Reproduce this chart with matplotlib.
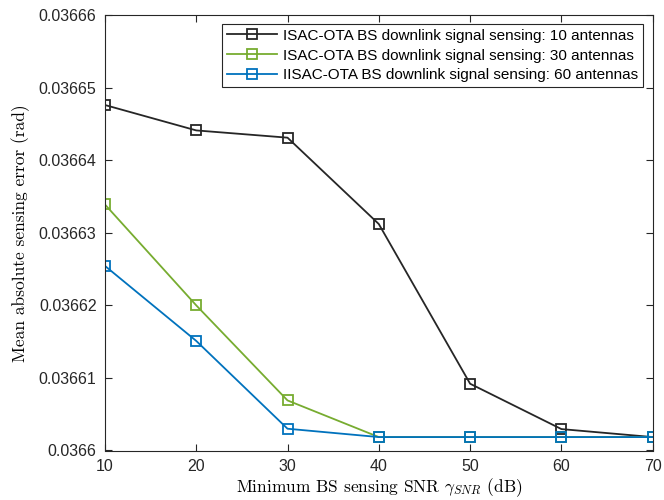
import matplotlib.pyplot as plt

snr_db = [10, 20, 30, 40, 50, 60, 70]
err_10ant = [0.0366476, 0.0366441, 0.0366431, 0.0366312, 0.0366092, 0.03660295, 0.03660185]
err_30ant = [0.0366339, 0.0366200, 0.0366069, 0.03660185, 0.03660185, 0.03660185, 0.03660185]
err_60ant = [0.03662544, 0.0366151, 0.0366030, 0.03660185, 0.03660185, 0.03660185, 0.03660185]

labels = ['ISAC-OTA BS downlink signal sensing: 10 antennas',
          'ISAC-OTA BS downlink signal sensing: 30 antennas',
          'IISAC-OTA BS downlink signal sensing: 60 antennas']
colors = ['#262626', '#77AC30', '#0072BD']

plt.rcParams['font.family'] = 'Liberation Sans'
plt.rcParams['mathtext.fontset'] = 'cm'

fig = plt.figure(figsize=(6.64, 5.0), dpi=100)
ax = fig.add_axes([0.158, 0.099, 0.825, 0.871])

for y, c, lab in zip([err_10ant, err_30ant, err_60ant], colors, labels):
    ax.plot(snr_db, y, color=c, lw=1.3, marker='s', ms=7.5, mfc='none', mew=1.3, label=lab)

ax.set_xlim(10, 70)
ax.set_ylim(0.0366, 0.03666)
ax.set_xticks(range(10, 71, 10))
ax.set_yticks([0.0366, 0.03661, 0.03662, 0.03663, 0.03664, 0.03665, 0.03666])
ax.set_yticklabels(['0.0366', '0.03661', '0.03662', '0.03663', '0.03664', '0.03665', '0.03666'])

ax.tick_params(direction='in', top=True, right=True, labelsize=11.5, colors='#262626',
               length=5, width=0.8, pad=6)
for s in ax.spines.values():
    s.set_color('#262626')
    s.set_linewidth(0.8)

ax.set_xlabel(r'Minimum BS sensing SNR $\gamma_{SNR}$ (dB)', family='cmr10', fontsize=12.5, labelpad=2)
ax.set_ylabel('Mean absolute sensing error (rad)', family='cmr10', fontsize=12.5, labelpad=6)

leg = ax.legend(loc='upper right', bbox_to_anchor=(0.982, 0.979), borderaxespad=0,
                fontsize=11, fancybox=False, edgecolor='#262626', handlelength=3.3,
                framealpha=1, borderpad=0.3, labelspacing=0.38, handletextpad=0.4)
leg.get_frame().set_linewidth(0.8)

fig.savefig('out.png', dpi=100)
